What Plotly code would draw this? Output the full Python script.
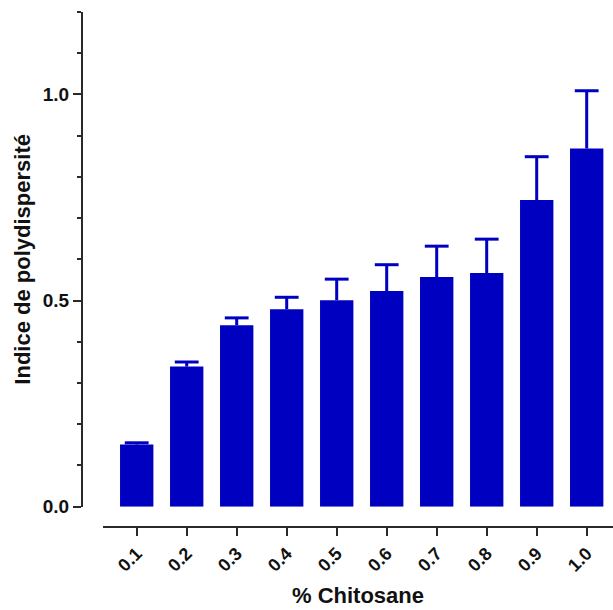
import plotly.graph_objects as go

categories = ["0.1", "0.2", "0.3", "0.4", "0.5", "0.6", "0.7", "0.8", "0.9", "1.0"]
pdi_mean = [0.151, 0.340, 0.440, 0.479, 0.501, 0.523, 0.557, 0.567, 0.744, 0.869]
pdi_sd = [0.004, 0.011, 0.018, 0.029, 0.051, 0.064, 0.075, 0.082, 0.105, 0.140]
zeros = [0] * len(categories)
cap_y = [m + s for m, s in zip(pdi_mean, pdi_sd)]

blue = "#0000C0"
axis_col = "#2a2a2a"
font_family = "Liberation Sans, Arial, sans-serif"

fig = go.Figure()
fig.add_trace(
    go.Bar(
        x=categories,
        y=pdi_mean,
        marker=dict(color=blue, line=dict(width=0)),
        error_y=dict(
            type="data",
            symmetric=False,
            array=pdi_sd,
            arrayminus=zeros,
            color=blue,
            thickness=3,
            width=0,
        ),
        width=0.667,
        hoverinfo="skip",
    )
)
# caps of the upper error bars
fig.add_trace(
    go.Scatter(
        x=categories,
        y=cap_y,
        mode="markers",
        marker=dict(symbol="line-ew", size=17, line=dict(width=3, color=blue), color=blue),
        hoverinfo="skip",
        cliponaxis=False,
    )
)

W, H = 613, 610
ml, mr, mt, mb = 82, 0, 12, 610 - 527
pw = W - ml - mr
ph = H - mt - mb
zero_px = 506.7  # pixel row of y=0

fig.update_layout(
    width=W,
    height=H,
    margin=dict(l=ml, r=mr, t=mt, b=mb, pad=0),
    paper_bgcolor="white",
    plot_bgcolor="white",
    showlegend=False,
    font=dict(family=font_family, color="#111111"),
    xaxis=dict(
        type="category",
        domain=[(103 - ml) / pw, 1],
        anchor="free",
        position=0,
        range=[-0.674, 9.526],
        showline=True,
        linecolor=axis_col,
        linewidth=2,
        ticks="outside",
        ticklen=8,
        tickwidth=2,
        tickcolor=axis_col,
        tickangle=-45,
        tickfont=dict(size=18, family=font_family, weight="bold", color="#111111"),
        showgrid=False,
        zeroline=False,
        title=dict(
            text="% Chitosane",
            font=dict(size=22, family=font_family, weight="bold", color="#111111"),
            standoff=12,
        ),
        automargin=False,
        fixedrange=True,
    ),
    yaxis=dict(
        domain=[(mt + ph - zero_px) / ph, 1],
        anchor="free",
        position=0,
        range=[0, 1.2],
        tickmode="linear",
        tick0=0,
        dtick=0.5,
        tickformat=".1f",
        showline=True,
        linecolor=axis_col,
        linewidth=2,
        ticks="outside",
        ticklen=8,
        tickwidth=2,
        tickcolor=axis_col,
        tickfont=dict(size=19, family=font_family, weight="bold", color="#111111"),
        minor=dict(dtick=0.1, tick0=0, ticks="outside", ticklen=4, tickwidth=2, tickcolor=axis_col, showgrid=False),
        showgrid=False,
        zeroline=False,
        title=dict(
            text="Indice de polydispersité",
            font=dict(size=22, family=font_family, weight="bold", color="#111111"),
            standoff=5,
        ),
        automargin=False,
        fixedrange=True,
    ),
)

fig.write_html(
    "out.html",
    config={"displayModeBar": False},
    post_script="document.body.style.margin='0';document.body.style.overflow='hidden';",
)
